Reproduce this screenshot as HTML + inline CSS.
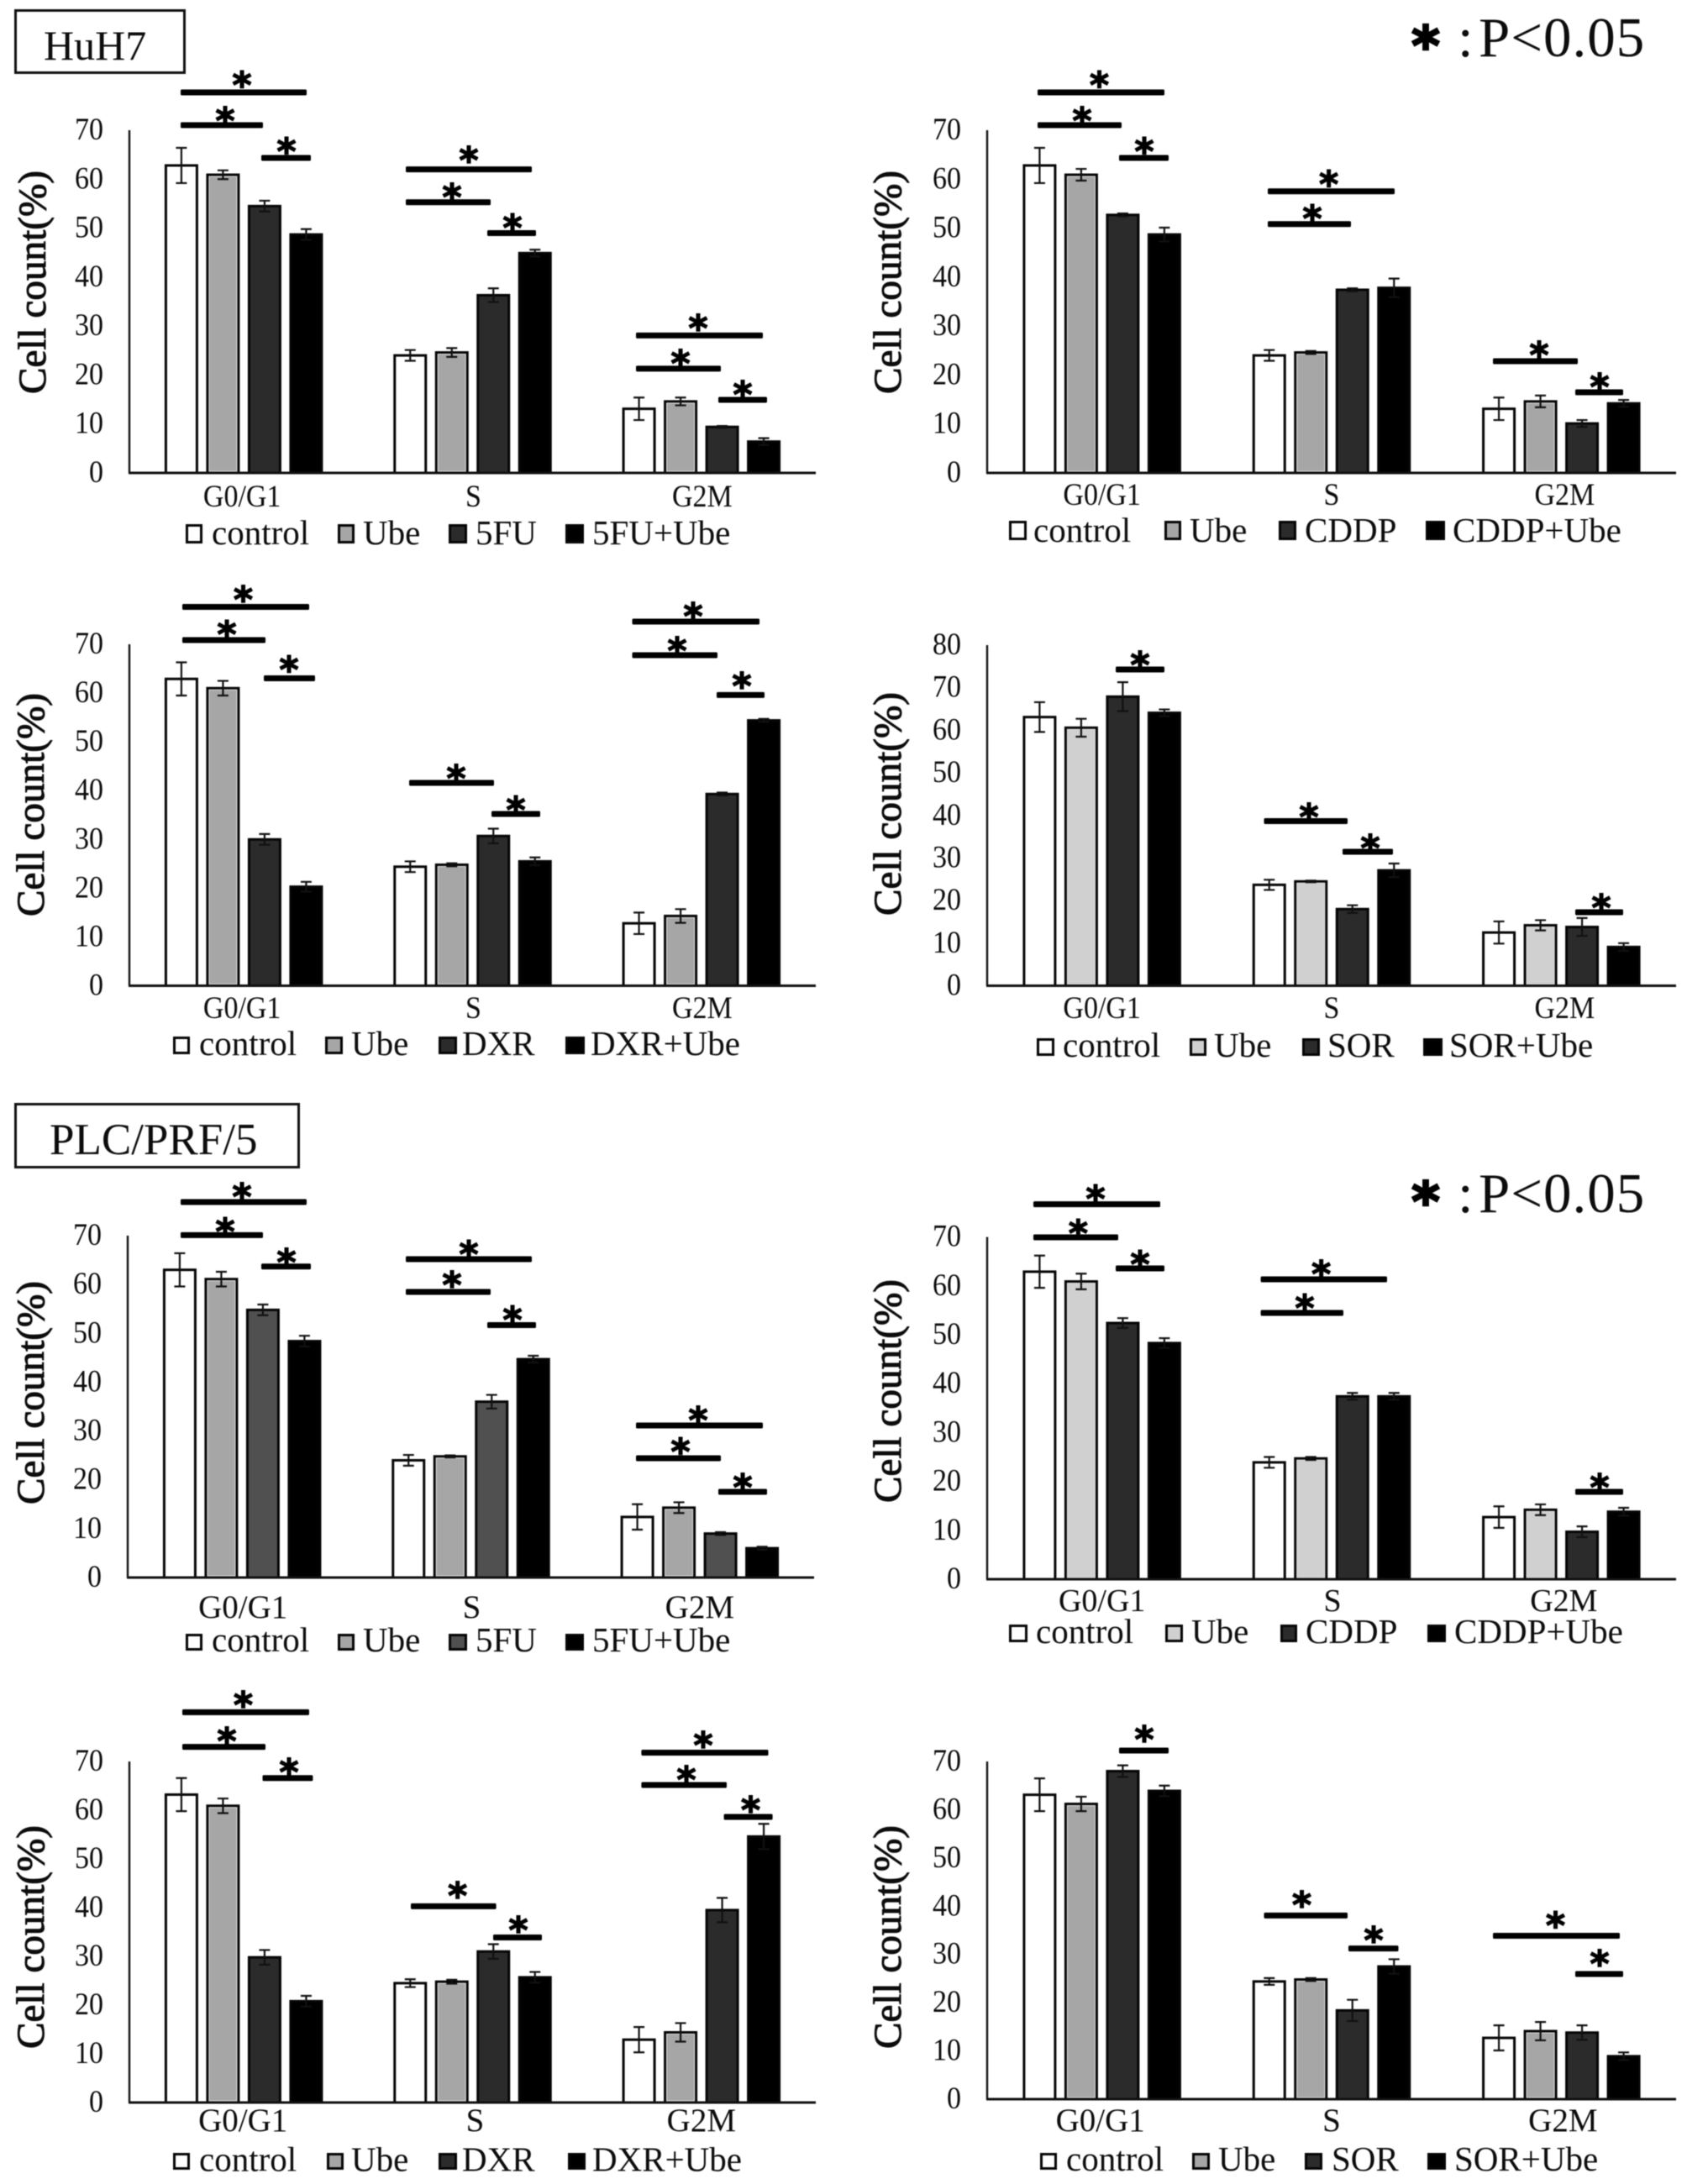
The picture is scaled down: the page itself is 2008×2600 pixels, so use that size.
<!DOCTYPE html>
<html lang="en">
<head>
<meta charset="utf-8">
<title>Cell cycle distribution in HuH7 and PLC/PRF/5 cells</title>
<style>
html,body{margin:0;padding:0;background:#fff;}
svg{display:block;filter:blur(.45px);}
text{font-family:"Liberation Serif",serif;fill:#0c0c0c;}
.star{font-family:"DejaVu Sans",sans-serif;font-weight:700;fill:#000;stroke:#000;stroke-width:1.4px;}
.keystar{stroke-width:2.6px;}
.title{stroke:#0c0c0c;stroke-width:1px;}
</style>
</head>
<body>
<svg id="figure" xmlns="http://www.w3.org/2000/svg" width="2008" height="2600" viewBox="0 0 2008 2600">
  <rect x="0" y="0" width="2008" height="2600" fill="#fff"/>

  <g>
    <rect x="18.5" y="12.5" width="201" height="74" fill="#fff" stroke="#111" stroke-width="3"/>
    <text x="52" y="71" font-size="50">HuH7</text>
  </g>
  <g>
    <rect x="18.5" y="1314.5" width="337" height="75" fill="#fff" stroke="#111" stroke-width="3"/>
    <text x="59" y="1374" font-size="53">PLC/PRF/5</text>
  </g>

  <g>
    <text class="star keystar" x="1697" y="77" font-size="64" text-anchor="middle">*</text>
    <text y="67" font-size="67" letter-spacing="1"><tspan x="1735">:</tspan><tspan x="1760">P&lt;0.05</tspan></text>
  </g>
  <g>
    <text class="star keystar" x="1697" y="1453" font-size="64" text-anchor="middle">*</text>
    <text y="1443" font-size="67" letter-spacing="1"><tspan x="1735">:</tspan><tspan x="1760">P&lt;0.05</tspan></text>
  </g>
</svg>

<script>
/* ---------- chart data (one row per treatment, one column per cell-cycle phase) ---------- */
const categories = ['G0/G1', 'S', 'G2M'];
const ticks70 = [0, 10, 20, 30, 40, 50, 60, 70];
const ticks80 = [0, 10, 20, 30, 40, 50, 60, 70, 80];
const yAxisTitle = 'Cell count(%)';

const huh7FuLegend = ['control', 'Ube', '5FU', '5FU+Ube'];
const huh7FuValues = [[62.8, 24.0, 13.1], [60.9, 24.6, 14.6], [54.5, 36.3, 9.4], [48.7, 44.9, 6.4]];
const huh7FuErrors = [[3.6, 1.1, 2.3], [0.9, 0.9, 0.8], [1.1, 1.4, 0.2], [1.1, 0.7, 0.7]];

const huh7CddpLegend = ['control', 'Ube', 'CDDP', 'CDDP+Ube'];
const huh7CddpValues = [[62.8, 24.0, 13.1], [60.9, 24.6, 14.6], [52.7, 37.4, 10.1], [48.7, 37.8, 14.2]];
const huh7CddpErrors = [[3.6, 1.1, 2.3], [1.2, 0.3, 1.2], [0.3, 0.3, 0.7], [1.4, 1.9, 0.7]];

const huh7DxrLegend = ['control', 'Ube', 'DXR', 'DXR+Ube'];
const huh7DxrValues = [[62.9, 24.4, 12.8], [61.0, 24.8, 14.3], [30.0, 30.7, 39.3], [20.3, 25.5, 54.4]];
const huh7DxrErrors = [[3.4, 1.1, 2.2], [1.5, 0.3, 1.4], [1.1, 1.5, 0.3], [1.0, 0.8, 0.3]];

const huh7SorLegend = ['control', 'Ube', 'SOR', 'SOR+Ube'];
const huh7SorValues = [[63.1, 23.7, 12.5], [60.6, 24.5, 14.2], [67.9, 18.0, 13.8], [64.1, 27.1, 9.1]];
const huh7SorErrors = [[3.5, 1.2, 2.6], [2.1, 0.2, 1.2], [3.4, 0.9, 2.1], [0.8, 1.6, 0.9]];

const plcFuLegend = ['control', 'Ube', '5FU', '5FU+Ube'];
const plcFuValues = [[63.0, 24.0, 12.4], [61.1, 24.8, 14.3], [54.8, 36.0, 9.0], [48.4, 44.7, 6.0]];
const plcFuErrors = [[3.4, 1.1, 2.6], [1.5, 0.2, 1.1], [1.1, 1.4, 0.3], [1.1, 0.7, 0.3]];

const plcCddpLegend = ['control', 'Ube', 'CDDP', 'CDDP+Ube'];
const plcCddpValues = [[62.9, 23.9, 12.7], [60.9, 24.7, 14.2], [52.4, 37.4, 9.7], [48.3, 37.4, 13.8]];
const plcCddpErrors = [[3.3, 1.1, 2.2], [1.6, 0.3, 1.1], [1.0, 0.7, 1.1], [1.0, 0.7, 0.8]];

const plcDxrLegend = ['control', 'Ube', 'DXR', 'DXR+Ube'];
const plcDxrValues = [[63.2, 24.5, 12.9], [60.9, 24.8, 14.4], [29.8, 31.0, 39.5], [20.8, 25.7, 54.6]];
const plcDxrErrors = [[3.4, 0.8, 2.6], [1.5, 0.4, 1.9], [1.5, 1.5, 2.5], [1.1, 1.1, 2.6]];

const plcSorLegend = ['control', 'Ube', 'SOR', 'SOR+Ube'];
const plcSorValues = [[63.1, 24.4, 12.7], [61.2, 24.8, 14.1], [68.0, 18.4, 13.8], [63.9, 27.5, 8.9]];
const plcSorErrors = [[3.4, 0.7, 2.6], [1.5, 0.3, 1.9], [1.2, 2.2, 1.5], [1.1, 1.5, 0.8]];

/* ---------- panel layout ---------- */
const panelLayouts = [
  {id:'huh7-5fu', left:154, right:971, base:563, top:155, ticks:ticks70, values:huh7FuValues, errors:huh7FuErrors, legend:huh7FuLegend,
   fills:['#fff','#a6a6a6','#2b2b2b','#000'], titleX:54, titleY:336, catSize:34, catBase:603, catDx:[-2,1,1],
   swatchX:[221,402,534,673], swatchW:[20,20,22,22], textX:[252,432,566,705], swatchY:624, swatchH:23, legendBase:648,
   sig:[[215,365,110,288,94.5],[215,313,149,268,137],[311,370,188,341,173.5],[483,633,201.6,558,184],[483,584,240.7,538,228],[580,638,277.5,610,264.5],[757,908,399.4,831,384],[757,858,438.9,810,426],[855,913,476,884,463]]},
  {id:'huh7-cddp', left:1175, right:1995, base:563, top:155, ticks:ticks70, values:huh7CddpValues, errors:huh7CddpErrors, legend:huh7CddpLegend,
   fills:['#fff','#a6a6a6','#2b2b2b','#000'], titleX:1072, titleY:336, catSize:34, catBase:601, catDx:[0,0,4],
   swatchX:[1201,1386,1522,1697], swatchW:[21,20,21,23], textX:[1230,1416,1553,1729], swatchY:620, swatchH:23, legendBase:645,
   sig:[[1235,1386,110,1308.5,94.5],[1235,1335,149,1288,137],[1332,1391,188,1362,173.5],[1509,1660,227.7,1581.6,212.5],[1509,1608,266.7,1562,253.7],[1777,1878,430,1832,416],[1875,1932,467,1904,454]]},
  {id:'huh7-dxr', left:154, right:971, base:1173.5, top:767, ticks:ticks70, values:huh7DxrValues, errors:huh7DxrErrors, legend:huh7DxrLegend,
   fills:['#fff','#a6a6a6','#2b2b2b','#000'], titleX:52, titleY:958, catSize:34, catBase:1212, catDx:[-2,1,1],
   swatchX:[206,387,522,673], swatchW:[20,21,22,23], textX:[237,418,550,703], swatchY:1234, swatchH:21, legendBase:1256,
   sig:[[217,368,722.5,289.5,707],[217,316,762,270,748.5],[314,375,807.5,344,790.6],[487,588,932,543,920],[585,643,969,614,957.5],[752.5,904,740,825,727],[752.5,854,780,806,768],[853,910,827.4,883,810]]},
  {id:'huh7-sor', left:1175, right:1995, base:1173.5, top:768, ticks:ticks80, values:huh7SorValues, errors:huh7SorErrors, legend:huh7SorLegend,
   fills:['#fff','#d0d0d0','#2b2b2b','#000'], titleX:1072, titleY:957, catSize:34, catBase:1212, catDx:[0,0,4],
   swatchX:[1234,1416,1550,1694], swatchW:[21,20,21,23], textX:[1265,1445,1580,1725], swatchY:1236, swatchH:21, legendBase:1258,
   sig:[[1328,1386,797,1357,785],[1504.5,1604,977.5,1558,966],[1598,1658,1014,1631,1003],[1875,1932,1086,1906,1074]]},
  {id:'plc-5fu', left:152, right:969, base:1878, top:1471, ticks:ticks70, values:plcFuValues, errors:plcFuErrors, legend:plcFuLegend,
   fills:['#fff','#a6a6a6','#505050','#000'], titleX:52, titleY:1658, catSize:39, catBase:1926, catDx:[1,1,0],
   swatchX:[221,402,534,673], swatchW:[20,20,22,22], textX:[252,432,566,705], swatchY:1945, swatchH:20, legendBase:1966,
   sig:[[215,365,1431,288,1418],[215,313,1470.4,268,1459.6],[311,370,1507.7,341,1496],[483,633,1499,558,1486.5],[483,584,1538,538,1523],[580,638,1577.5,610,1564.5],[757,908,1697,831,1684],[757,858,1736,810,1721.5],[855,913,1776,884,1764]]},
  {id:'plc-cddp', left:1175, right:1995, base:1880, top:1472.6, ticks:ticks70, values:plcCddpValues, errors:plcCddpErrors, legend:plcCddpLegend,
   fills:['#fff','#d0d0d0','#2b2b2b','#000'], titleX:1072, titleY:1656, catSize:38, catBase:1918, catDx:[0,1,3],
   swatchX:[1201,1387,1524,1699], swatchW:[22,21,20,22], textX:[1233,1418,1554,1731], swatchY:1934, swatchH:21, legendBase:1956,
   sig:[[1230,1381,1433.6,1304,1420.5],[1230,1331,1473,1283.4,1461.7],[1328,1386,1510,1357,1498.6],[1500.6,1651,1523,1572.6,1510],[1500.6,1599,1563,1553,1550.6],[1875,1932,1776,1904,1764]]},
  {id:'plc-dxr', left:154, right:971, base:2503, top:2097, ticks:ticks70, values:plcDxrValues, errors:plcDxrErrors, legend:plcDxrLegend,
   fills:['#fff','#a6a6a6','#2b2b2b','#000'], titleX:52, titleY:2306, catSize:39, catBase:2537, catDx:[-1,3,0],
   swatchX:[206,389,522,676], swatchW:[20,20,22,21], textX:[237,418,550,705], swatchY:2563, swatchH:20, legendBase:2584.5,
   sig:[[217,368,2038.4,289.5,2023],[217,316,2079.6,270,2066],[312.5,372.4,2116.7,344,2103],[489,590.6,2269.4,544.6,2250],[587,645,2306.5,617,2291],[763.4,914.5,2086.5,837,2071],[763.4,865,2125,817,2112],[861.6,919.6,2163,893.5,2147.8]]},
  {id:'plc-sor', left:1175, right:1995, base:2499, top:2097, ticks:ticks70, values:plcSorValues, errors:plcSorErrors, legend:plcSorLegend,
   fills:['#fff','#a6a6a6','#2b2b2b','#000'], titleX:1072, titleY:2306, catSize:39, catBase:2537, catDx:[-2,0,2],
   swatchX:[1238,1419,1553,1699], swatchW:[20,21,21,22], textX:[1269,1450,1585,1731], swatchY:2563, swatchH:20, legendBase:2584,
   sig:[[1332,1391,2084,1362,2064],[1504.5,1604,2280.4,1549.5,2261],[1605,1664.5,2319.6,1635,2303],[1777,1928,2304.5,1851.5,2285.3],[1875,1932,2350,1904,2331]]}
];

/* ---------- drawing ---------- */
const SVG_NS = 'http://www.w3.org/2000/svg';
const figure = document.getElementById('figure');
const BAR_STEP = 49.5;
const BAR_WIDTH = 37;
const CAP = 6.5;

function make(parent, tag, attrs) {
  const el = document.createElementNS(SVG_NS, tag);
  for (const key in attrs) el.setAttribute(key, attrs[key]);
  parent.appendChild(el);
  return el;
}

function drawPanel(p) {
  const maxTick = p.ticks[p.ticks.length - 1];
  const yScale = v => p.base - (v / maxTick) * (p.base - p.top);
  const groupWidth = (p.right - p.left) / categories.length;
  const groupCentre = i => p.left + (i + 0.5) * groupWidth;
  const barCentre = (i, s) => groupCentre(i) + (s - 1.5) * BAR_STEP;

  const g = make(figure, 'g', {});
  
  

  /* y title */
  const title = make(g, 'text', {class:'title', x:0, y:0, 'font-size':47, 'text-anchor':'middle', textLength:266, lengthAdjust:'spacingAndGlyphs', transform:'translate(' + p.titleX + ' ' + p.titleY + ') rotate(-90)'});
  title.textContent = yAxisTitle;
  
  

  /* y tick labels */
  p.ticks.forEach(t => {
    const label = make(g, 'text', {x:0, y:0, 'font-size':34, 'text-anchor':'end', transform:'translate(' + (p.left - 31) + ' ' + (yScale(t) + 11) + ') scale(1 1.08)'});
    label.textContent = String(t);
    
    
  });

  /* bars */
  p.values.forEach((row, s) => {
    row.forEach((v, i) => {
      const bar = make(g, 'rect', {x:barCentre(i, s) - BAR_WIDTH / 2, y:yScale(v), width:BAR_WIDTH, height:p.base - yScale(v), fill:p.fills[s], stroke:'#050505', 'stroke-width':3});
      
      
      if (s === 1) {
        const edge = make(g, 'rect', {x:barCentre(i, s) - BAR_WIDTH / 2 + 2, y:yScale(v) + 2, width:BAR_WIDTH - 4, height:p.base - yScale(v) - 4, fill:'none', stroke:'#dedede', 'stroke-width':1});
        
        
      }
    });
  });

  /* error bars */
  p.errors.forEach((row, s) => {
    row.forEach((e, i) => {
      const cx = barCentre(i, s);
      const hi = yScale(p.values[s][i] + e);
      const lo = yScale(p.values[s][i] - e);
      const d = 'M' + (cx - CAP) + ' ' + hi + 'H' + (cx + CAP) + 'M' + (cx - CAP) + ' ' + lo + 'H' + (cx + CAP) + 'M' + cx + ' ' + hi + 'V' + lo;
      const err = make(g, 'path', {d:d, fill:'none', stroke:'#111', 'stroke-width':2.2});
      
      
    });
  });

  /* axes */
  const yAxis = make(g, 'line', {x1:p.left, x2:p.left, y1:p.top, y2:p.base, stroke:'#111', 'stroke-width':2.4});
  
  
  const xAxis = make(g, 'line', {x1:p.left - 1, x2:p.right, y1:p.base, y2:p.base, stroke:'#111', 'stroke-width':3});
  
  

  /* category labels */
  const catStretch = p.catSize < 36 ? 1.1 : 1;
  categories.forEach((c, i) => {
    const label = make(g, 'text', {x:0, y:0, 'font-size':p.catSize, 'text-anchor':'middle', transform:'translate(' + (groupCentre(i) + p.catDx[i]) + ' ' + p.catBase + ') scale(1 ' + catStretch + ')'});
    label.textContent = c;
    
    
  });

  /* legend */
  p.legend.forEach((name, s) => {
    const swatch = make(g, 'rect', {x:p.swatchX[s] + 1.5, y:p.swatchY + 1.5, width:p.swatchW[s] - 3, height:p.swatchH - 3, fill:p.fills[s], stroke:'#050505', 'stroke-width':3});
    
    
    const text = make(g, 'text', {x:p.textX[s], y:p.legendBase, 'font-size':41});
    text.textContent = name;
    
    
  });

  /* significance brackets */
  p.sig.forEach(a => {
    const rule = make(g, 'rect', {x:a[0], y:a[2] - 3.5, width:a[1] - a[0], height:7, rx:1.5, fill:'#000'});
    
    
    const star = make(g, 'text', {class:'star', x:a[3], y:a[4] + 22, 'font-size':44, 'text-anchor':'middle'});
    star.textContent = '*';
    
    
  });
}

panelLayouts.forEach(drawPanel);
</script>
</body>
</html>
